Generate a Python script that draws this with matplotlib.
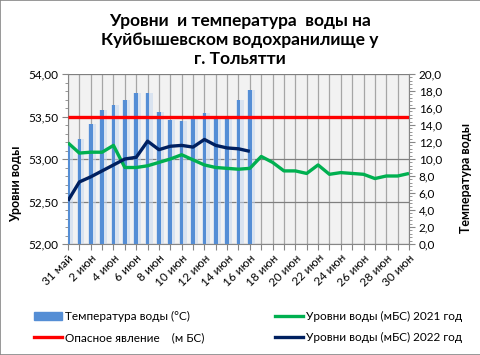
import matplotlib
matplotlib.use("Agg")
import matplotlib.pyplot as plt
from matplotlib.patches import Rectangle
from matplotlib.lines import Line2D
from matplotlib.patches import Patch
from matplotlib.ticker import FuncFormatter, MultipleLocator

plt.rcParams['font.family'] = ['Lato', 'DejaVu Sans']

# dates 31 May .. 30 June
days = ["31 май"] + [f"{d} июн" for d in range(1, 31)]

# water temperature, degC (only 31 May - 16 Jun)
temp_2022 = [11.6, 12.3, 14.1, 15.8, 16.4, 16.9, 17.8, 17.8, 15.5, 14.6,
             14.5, 14.7, 15.4, 15.0, 14.9, 16.9, 18.1]

# levels, m BS
level_2021 = [53.19, 53.07, 53.08, 53.08, 53.16, 52.90, 52.90, 52.92, 52.96, 53.00,
              53.05, 52.99, 52.93, 52.90, 52.89, 52.88, 52.89, 53.03, 52.96, 52.86,
              52.86, 52.83, 52.93, 52.82, 52.84, 52.83, 52.82, 52.77, 52.80, 52.80,
              52.83]
level_2022 = [52.51, 52.73, 52.79, 52.86, 52.93, 53.00, 53.02, 53.21, 53.11, 53.15,
              53.16, 53.14, 53.23, 53.16, 53.13, 53.12, 53.09]
danger_level = [53.50] * len(days)

x_all = list(range(len(days)))
x_2022 = list(range(len(temp_2022)))

W, H = 481, 355
fig = plt.figure(figsize=(W / 100, H / 100), dpi=100)
fig.patches.append(Rectangle((0, 0), 1, 1, transform=fig.transFigure,
                             fill=False, edgecolor='#868686', linewidth=1.2))

rect = [68 / W, 1 - 244 / H, (409 - 68) / W, (244 - 74) / H]
grid_c = '#868686'

# base axes: background, grid, left scale
ax = fig.add_axes(rect)
ax.set_facecolor('#f2f2f2')
ax.set_xlim(0, 30)
ax.set_ylim(52, 54)
ax.yaxis.set_major_locator(MultipleLocator(0.5))
ax.yaxis.set_minor_locator(MultipleLocator(0.1))
ax.yaxis.set_major_formatter(FuncFormatter(lambda v, p: f"{v:.2f}".replace('.', ',')))
ax.set_xticks(x_all)
ax.set_xticklabels([d if i % 2 == 0 else "" for i, d in enumerate(days)],
                   rotation=45, ha='right', rotation_mode='anchor', fontsize=8.5)
ax.grid(axis='x', color='#a6a6a6', linewidth=0.9)
ax.grid(axis='y', color='#7f7f7f', linewidth=0.9)
ax.tick_params(axis='y', labelsize=8.5, length=4, color=grid_c, pad=3)
ax.tick_params(axis='y', which='minor', length=2.5, color=grid_c)
ax.tick_params(axis='x', length=4, color=grid_c, pad=2)
for s in ['left', 'bottom']:
    ax.spines[s].set_color(grid_c)
ax.spines['top'].set_visible(False)
ax.spines['right'].set_visible(False)
ax.set_axisbelow(True)

# temperature bars, right scale
ax2 = ax.twinx()
ax2.set_ylim(0, 20)
ax2.yaxis.set_major_locator(MultipleLocator(2))
ax2.yaxis.set_minor_locator(MultipleLocator(0.4))
ax2.yaxis.set_major_formatter(FuncFormatter(lambda v, p: f"{v:.1f}".replace('.', ',')))
ax2.tick_params(axis='y', labelsize=8.5, length=4, color=grid_c, pad=3)
ax2.tick_params(axis='y', which='minor', length=2.5, color=grid_c)
ax2.spines['right'].set_color(grid_c)
for s in ['top', 'left', 'bottom']:
    ax2.spines[s].set_visible(False)
ax2.bar([v + 0.1 for v in x_2022], temp_2022, width=0.7, color='#c6d7ef',
        alpha=0.55, zorder=1)
ax2.bar(x_2022, temp_2022, width=0.32, color='#558ed5', zorder=2)

# level lines on top
ax3 = ax.twinx()
ax3.set_ylim(ax.get_ylim())
ax3.axis('off')
ax3.plot(x_all, danger_level, color='#ff0000', linewidth=2.4, solid_capstyle='butt')
ax3.plot(x_all, level_2021, color='#00b050', linewidth=2.4, solid_capstyle='butt')
ax3.plot(x_2022, level_2022, color='#002060', linewidth=2.4, solid_capstyle='butt')

fig.text(240 / W, 1 - 40 / H,
         "Уровни  и температура  воды на\nКуйбышевском водохранилище у\nг. Тольятти",
         ha='center', va='center', fontsize=12.5, fontweight='bold', linespacing=1.25)
fig.text(16 / W, 1 - 184 / H, "Уровни воды", rotation=90, ha='center', va='center',
         fontsize=9, fontweight='bold')
fig.text(466 / W, 1 - 178 / H, "Температура воды", rotation=90, ha='center', va='center',
         fontsize=9, fontweight='bold')

handles = [Patch(color='#558ed5'),
           Line2D([], [], color='#ff0000', linewidth=2.4),
           Line2D([], [], color='#00b050', linewidth=2.4),
           Line2D([], [], color='#002060', linewidth=2.4)]
labels = ["Температура воды (°C)", "Опасное явление    (м БС)",
          "Уровни воды (мБС) 2021 год", "Уровни воды (мБС) 2022 год"]
fig.legend(handles, labels, loc='upper left', bbox_to_anchor=(34 / W, 1 - 311 / H),
           ncol=2, frameon=False, fontsize=8.5, handlelength=2.4, handletextpad=0.2,
           columnspacing=6.0, labelspacing=0.85, borderaxespad=0, borderpad=0)

fig.savefig("out.png", dpi=100)
